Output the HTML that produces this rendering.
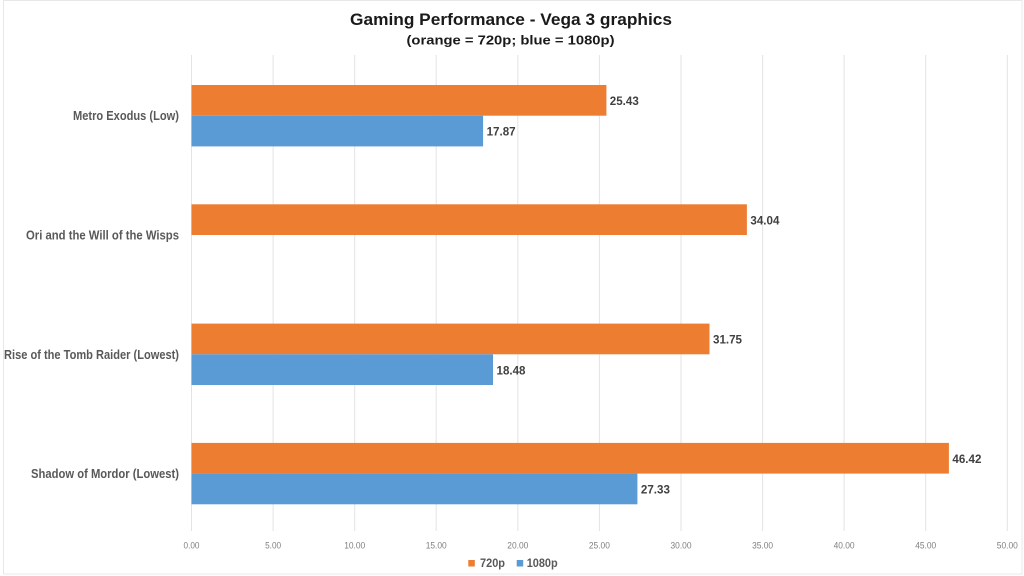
<!DOCTYPE html>
<html>
<head>
<meta charset="utf-8">
<style>
  html,body{margin:0;padding:0;background:#fff;}
  svg{display:block;}
  text{font-family:"Liberation Sans",sans-serif;}
</style>
</head>
<body>
<svg width="1024" height="576" viewBox="0 0 1024 576" xmlns="http://www.w3.org/2000/svg">
  <rect x="0" y="0" width="1024" height="576" fill="#ffffff"/>
  <rect x="3.5" y="0.5" width="1018.5" height="573.5" fill="none" stroke="#e8e8e8" stroke-width="1"/>

  <!-- Title -->
  <text x="511" y="25" text-anchor="middle" font-size="17" font-weight="bold" fill="#1a1a1a" textLength="322" lengthAdjust="spacingAndGlyphs">Gaming Performance - Vega 3 graphics</text>
  <text x="510.5" y="44.5" text-anchor="middle" font-size="13" font-weight="bold" fill="#1a1a1a" textLength="208" lengthAdjust="spacingAndGlyphs">(orange = 720p; blue = 1080p)</text>

  <!-- Gridlines -->
  <g stroke="#e3e3e3" stroke-width="1">
    <line x1="191.5" y1="55" x2="191.5" y2="531"/>
    <line x1="273.1" y1="55" x2="273.1" y2="531"/>
    <line x1="354.7" y1="55" x2="354.7" y2="531"/>
    <line x1="436.2" y1="55" x2="436.2" y2="531"/>
    <line x1="517.8" y1="55" x2="517.8" y2="531"/>
    <line x1="599.4" y1="55" x2="599.4" y2="531"/>
    <line x1="681.0" y1="55" x2="681.0" y2="531"/>
    <line x1="762.6" y1="55" x2="762.6" y2="531"/>
    <line x1="844.1" y1="55" x2="844.1" y2="531"/>
    <line x1="925.7" y1="55" x2="925.7" y2="531"/>
    <line x1="1007.3" y1="55" x2="1007.3" y2="531"/>
  </g>

  <!-- Bars -->
  <g>
    <rect x="191.5" y="85" width="414.9" height="30.7" fill="#ED7D31"/>
    <rect x="191.5" y="115.7" width="291.6" height="30.7" fill="#5B9BD5"/>

    <rect x="191.5" y="204.3" width="555.4" height="30.7" fill="#ED7D31"/>

    <rect x="191.5" y="323.6" width="518.0" height="30.7" fill="#ED7D31"/>
    <rect x="191.5" y="354.3" width="301.5" height="30.7" fill="#5B9BD5"/>

    <rect x="191.5" y="442.9" width="757.4" height="30.7" fill="#ED7D31"/>
    <rect x="191.5" y="473.6" width="445.9" height="30.7" fill="#5B9BD5"/>
  </g>

  <!-- Data labels -->
  <g font-size="11.5" font-weight="bold" fill="#404040">
    <text x="609.8" y="105" textLength="29" lengthAdjust="spacingAndGlyphs">25.43</text>
    <text x="486.6" y="135.7" textLength="29" lengthAdjust="spacingAndGlyphs">17.87</text>
    <text x="750.4" y="224.3" textLength="29" lengthAdjust="spacingAndGlyphs">34.04</text>
    <text x="713.0" y="343.6" textLength="29" lengthAdjust="spacingAndGlyphs">31.75</text>
    <text x="496.5" y="374.3" textLength="29" lengthAdjust="spacingAndGlyphs">18.48</text>
    <text x="952.4" y="462.9" textLength="29" lengthAdjust="spacingAndGlyphs">46.42</text>
    <text x="640.9" y="493.6" textLength="29" lengthAdjust="spacingAndGlyphs">27.33</text>
  </g>

  <!-- Category labels -->
  <g font-size="12.5" font-weight="bold" fill="#595959" text-anchor="end">
    <text x="179" y="120.2" textLength="106" lengthAdjust="spacingAndGlyphs">Metro Exodus (Low)</text>
    <text x="179" y="239.5" textLength="153" lengthAdjust="spacingAndGlyphs">Ori and the Will of the Wisps</text>
    <text x="179" y="358.8" textLength="175" lengthAdjust="spacingAndGlyphs">Rise of the Tomb Raider (Lowest)</text>
    <text x="179" y="478.1" textLength="148" lengthAdjust="spacingAndGlyphs">Shadow of Mordor (Lowest)</text>
  </g>

  <!-- Axis tick labels -->
  <g font-size="9" fill="#7f7f7f" text-anchor="middle">
    <text x="191.5" y="548.5" textLength="16" lengthAdjust="spacingAndGlyphs">0.00</text>
    <text x="273.1" y="548.5" textLength="16" lengthAdjust="spacingAndGlyphs">5.00</text>
    <text x="354.7" y="548.5" textLength="21" lengthAdjust="spacingAndGlyphs">10.00</text>
    <text x="436.2" y="548.5" textLength="21" lengthAdjust="spacingAndGlyphs">15.00</text>
    <text x="517.8" y="548.5" textLength="21" lengthAdjust="spacingAndGlyphs">20.00</text>
    <text x="599.4" y="548.5" textLength="21" lengthAdjust="spacingAndGlyphs">25.00</text>
    <text x="681.0" y="548.5" textLength="21" lengthAdjust="spacingAndGlyphs">30.00</text>
    <text x="762.6" y="548.5" textLength="21" lengthAdjust="spacingAndGlyphs">35.00</text>
    <text x="844.1" y="548.5" textLength="21" lengthAdjust="spacingAndGlyphs">40.00</text>
    <text x="925.7" y="548.5" textLength="21" lengthAdjust="spacingAndGlyphs">45.00</text>
    <text x="1007.3" y="548.5" textLength="21" lengthAdjust="spacingAndGlyphs">50.00</text>
  </g>

  <!-- Legend -->
  <rect x="468.3" y="560" width="6.5" height="6.5" fill="#ED7D31"/>
  <text x="480" y="567" font-size="11.5" font-weight="bold" fill="#595959" textLength="25" lengthAdjust="spacingAndGlyphs">720p</text>
  <rect x="516.7" y="560" width="6.5" height="6.5" fill="#5B9BD5"/>
  <text x="526.7" y="567" font-size="11.5" font-weight="bold" fill="#595959" textLength="31" lengthAdjust="spacingAndGlyphs">1080p</text>
</svg>
</body>
</html>
